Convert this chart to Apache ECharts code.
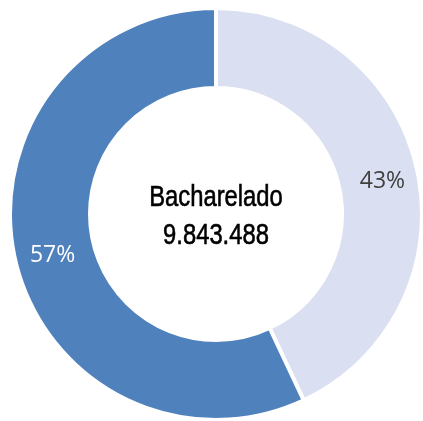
<!DOCTYPE html>
<html>
<head>
<meta charset="utf-8">
<script src="https://cdn.jsdelivr.net/npm/echarts@6/dist/echarts.min.js"></script>
<style>
  html, body { margin: 0; padding: 0; background: #fff; }
  #chart { width: 423px; height: 421px; }
</style>
</head>
<body>
<div id="chart"></div>
<script>
var names = ['Outros', 'Bacharelado'];
var values = [43, 57];
var colors = ['#dae0f2', '#4f81bd'];
var labelColors = ['#404040', '#ffffff'];
var centerTitle = 'Bacharelado';
var centerValue = '9.843.488';

var myChart = echarts.init(document.getElementById('chart'));
var option = {
    animation: false,
    graphic: [{
        type: 'text',
        x: 216,
        y: 179,
        scaleX: 0.82,
        style: {
            text: centerTitle + '\n' + centerValue,
            fill: '#000',
            stroke: '#000',
            lineWidth: 0.6,
            font: '29px "Liberation Sans", Arial, sans-serif',
            align: 'center',
            verticalAlign: 'top',
            lineHeight: 38
        }
    }],
    series: [{
        type: 'pie',
        center: [216, 214],
        radius: [126, 206],
        startAngle: 90,
        clockwise: true,
        itemStyle: {
            borderColor: '#fff',
            borderWidth: 4
        },
        label: {
            position: 'inside',
            formatter: '{v|{c}%}',
            rich: {
                v: {
                    fontSize: 23,
                    fontFamily: 'Open Sans',
                    padding: [9, 0, 0, 3]
                }
            }
        },
        labelLine: { show: false },
        data: values.map(function (v, i) {
            return {
                name: names[i],
                value: v,
                itemStyle: { color: colors[i] },
                label: { color: labelColors[i] }
            };
        })
    }]
};
myChart.setOption(option);
</script>
</body>
</html>
